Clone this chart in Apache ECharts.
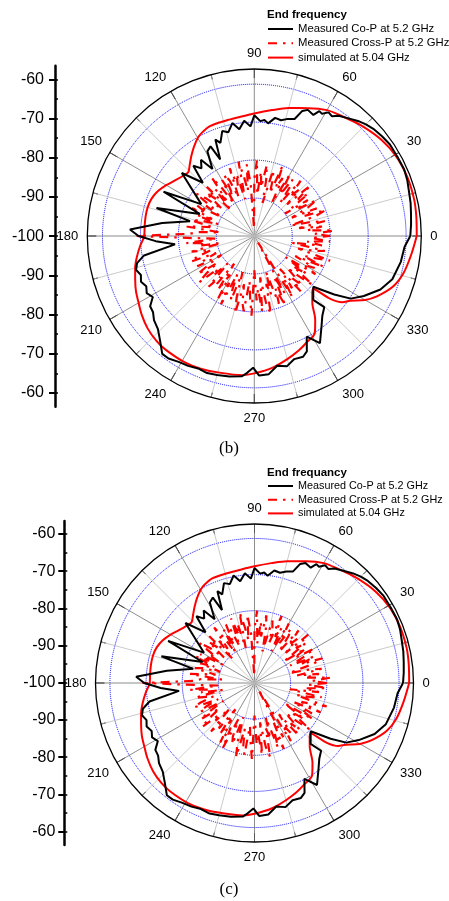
<!DOCTYPE html>
<html><head><meta charset="utf-8">
<script src="https://cdn.jsdelivr.net/npm/echarts@6/dist/echarts.min.js"></script>
<style>html,body{margin:0;padding:0;background:#fff}#c{width:449px;height:901px}</style>
</head><body><div id="c"></div>
<script>
// ---- data (dB vs angle in degrees) ----
const coPolAngle = [0,4,8,12,16,20,24,29,34,38,42,45,48,52,55,57,59,61,62.5,64,67,69,71,74,77,80,83,85,87,90,92,95,98,101,104,107,110,112,114,116,119,122,125,128,131,134,139,149,154,158,164,167,172,177,180,183,186,190,193,196,199,202,205,208,211,214,217,220,224,228,232,235,239,243,247,251,255,260,265,267,269.5,272,276,280,284,288,292,294.5,297.5,301.5,306.6,310.5,314.5,312.7,319.3,323.8,327,331.3,337,342.6,350,355.9,360];
const coPolDb = [-58.9,-58.6,-58.3,-57.9,-57.6,-57.1,-56.8,-56.9,-56.9,-57.3,-57.8,-58.4,-59.2,-60.5,-61.3,-62.4,-62.0,-63.2,-62.9,-64.5,-63.9,-64.7,-67.4,-67.9,-68.7,-68.4,-70.1,-69.3,-69.7,-68.2,-71.1,-69.5,-71.6,-69.7,-71.8,-71.1,-73.9,-72.6,-77.9,-73.7,-74.5,-79.2,-75.5,-77.4,-75.5,-80.5,-74.7,-83.7,-73.4,-84.5,-73.2,-82.6,-75.5,-67.2,-69.5,-74.0,-79.0,-70.5,-68.3,-67.6,-68.4,-67.8,-68.6,-67.9,-68.8,-66.9,-66.6,-65.5,-64.7,-62.9,-60.6,-60.6,-61.3,-61.6,-62.1,-61.8,-62.1,-62.4,-62.9,-63.9,-65.3,-63.2,-63.4,-65.3,-64.6,-65.9,-65.7,-66.6,-70.1,-66.9,-70.3,-72.4,-73.7,-77.1,-79.5,-73.9,-69.7,-67.1,-63.9,-61.9,-60.8,-60.3,-58.9];

const crossPolAngle = [0,2,4,6,8,10,12,14,16,18,20,22,24,26,28,30,32,34,36,38,40,42,44,46,48,50,52,54,56,58,60,62,64,66,68,70,72,74,76,78,80,82,84,86,88,90,92,94,96,98,100,102,104,106,108,110,112,114,116,118,120,122,124,126,128,130,132,134,136,138,140,142,144,146,148,150,152,154,156,158,160,162,164,166,168,170,172,174,176,178,180,182,184,186,188,190,192,194,196,198,200,202,204,206,208,210,212,214,216,218,220,222,224,226,228,230,232,234,236,238,240,242,244,246,248,250,252,254,256,258,260,262,264,266,268,270,272,274,276,278,280,282,284,286,288,290,292,294,296,298,300,302,304,306,308,310,312,314,316,318,320,322,324,326,328,330,332,334,336,338,340,342,344,346,348,350,352,354,356,358,360];
const crossPolDb = [
 -80,-84,-79,-86,-82,-88,-81,-85,-90,-83,
 -80,-86,-82,-89,-84,-81,-87,-83,-90,-82,
 -85,-80,-88,-83,-86,-81,-89,-84,-82,-87,
 -81,-90,-83,-86,-80,-88,-84,-82,-91,-85,
 -81,-87,-83,-89,-80,-85,-98,-86,-81,-88,
 -84,-80,-90,-83,-86,-81,-89,-84,-82,-88,
 -83,-90,-85,-81,-88,-84,-91,-82,-86,-83,
 -89,-84,-81,-87,-85,-90,-83,-86,-82,-88,
 -84,-90,-85,-83,-89,-86,-82,-91,-85,-83,
 -69,-84,-90,-82,-87,-85,-91,-83,-86,-88,
 -84,-82,-89,-85,-83,-90,-86,-82,-88,-84,
 -81,-87,-85,-90,-82,-86,-84,-91,-83,-88,
 -81,-86,-80,-89,-84,-82,-90,-83,-79,-87,
 -82,-80,-88,-84,-79,-91,-83,-86,-80,-89,
 -82,-79,-87,-84,-90,-81,-85,-80,-88,-83,
 -98,-81,-86,-83,-89,-81,-85,-82,-88,-84,
 -80,-87,-83,-90,-81,-85,-82,-88,-80,-86,
 -83,-79,-88,-84,-81,-90,-82,-86,-80,-85,
 -80];

const simAngle = [0,7,13,21,29,37,46,54,60,67,75,82,90,97,104,112,117,120,124,128,132,136,140,145,150,155,160,165,170,175,180,185,190,195,200,205,210,215,221,227,232,241,248,255,265,270,278,285,291,296,302,306,311,315,318,320.4,323,326,330,334,340,346,353,360];
const simDb = [-57.2,-57.0,-56.8,-56.8,-57.1,-58.0,-59.5,-60.9,-61.7,-63.4,-65.1,-66.5,-67.7,-68.4,-68.7,-68.8,-69.5,-70.2,-71.6,-73.1,-74.6,-75.8,-75.4,-74.5,-73.2,-72.0,-71.2,-70.9,-70.9,-71.0,-71.0,-69.8,-68.6,-67.5,-66.6,-65.6,-64.8,-63.8,-62.8,-62.2,-62.0,-62.0,-62.3,-62.8,-63.2,-63.8,-65.0,-66.4,-67.6,-68.7,-69.9,-72.7,-76.7,-78.4,-79.2,-74.0,-71.0,-69.5,-66.3,-63.9,-61.1,-59.5,-58.4,-57.2];

const angleLabels = ['0','30','60','90','120','150','180','210','240','270','300','330',''];
const leftTickLabels = ['-60','-70','-80','-90','-100','-90','-80','-70','-60'];
const seriesNames = ['Measured Co-P at 5.2 GHz','Measured Cross-P at 5.2 GHz','simulated at 5.04 GHz'];

const FONT = 'Liberation Sans';
function pairs(ang, db){ return ang.map((a,i)=>[db[i], a]); }

const panels = [
  {center:[254.3,236], radius:167, axisX:55, topA:65.7, hA:341, topB:79.4, hB:313.6, labelMargin:11,
   legendTop:23, legendGap:2.3, legendFont:11.3, titleTop:9, title:'End frequency', caption:'(b)', capY:449},
  {center:[254.5,683], radius:159, axisX:64.3, topA:521, hA:324, topB:533.9, hB:297.6, labelMargin:9,
   legendTop:480, legendGap:1.7, legendFont:10.8, titleTop:467, title:'End frequancy', caption:'(c)', capY:890}
];

const option = {animation:false, backgroundColor:'#fff',
  polar:[], angleAxis:[], radiusAxis:[], grid:[], xAxis:[], yAxis:[], series:[], legend:[], title:[], graphic:[]};

panels.forEach((p, k) => {
  option.polar.push({center:p.center, radius:p.radius});
  option.angleAxis.push({polarIndex:k, type:'value', min:0, max:360, interval:30, startAngle:0, clockwise:false,
    axisLine:{show:true, lineStyle:{color:'#000', width:1.3}},
    axisTick:{show:true, inside:true, length:9, lineStyle:{color:'#000', width:1}},
    minorTick:{show:true, splitNumber:2, length:5, lineStyle:{color:'#000', width:1}},
    axisLabel:{show:true, margin:9, fontSize:13, fontFamily:FONT, color:'#000',
      formatter:(v)=>angleLabels[Math.round(v/30)]},
    splitLine:{show:true, lineStyle:{color:'#707070', width:0.8}},
    minorSplitLine:{show:true, lineStyle:{color:'#bdbdbd', width:0.8}}, z:1});
  option.radiusAxis.push({polarIndex:k, type:'value', min:-100, max:-56, interval:10,
    axisLine:{show:false}, axisTick:{show:false}, axisLabel:{show:false},
    splitLine:{show:true, lineStyle:{color:['rgba(0,0,0,0)','#0000ff','#0000ff','#0000ff','#0000ff','rgba(0,0,0,0)'], type:'dotted', width:1}}});

  const gA = option.grid.length;
  option.grid.push({left:p.axisX, top:p.topA, height:p.hA, width:20, containLabel:false, outerBoundsMode:'none'});
  option.grid.push({left:p.axisX, top:p.topB, height:p.hB, width:20, containLabel:false, outerBoundsMode:'none'});
  option.xAxis.push({gridIndex:gA, type:'value', show:false});
  option.xAxis.push({gridIndex:gA+1, type:'value', show:false});
  option.yAxis.push({gridIndex:gA, type:'value', min:-43.5, max:43.5, position:'left',
    axisLine:{show:true, lineStyle:{color:'#000', width:2.5}}, axisTick:{show:false}, axisLabel:{show:false}, splitLine:{show:false}});
  option.yAxis.push({gridIndex:gA+1, type:'value', min:-40, max:40, interval:10, position:'left',
    axisLine:{show:false}, axisTick:{show:true, inside:false, length:6, lineStyle:{color:'#000', width:2}},
    axisLabel:{show:true, margin:p.labelMargin, fontSize:16, fontFamily:FONT, color:'#000',
      formatter:(v)=>leftTickLabels[Math.round((v+40)/10)]}, splitLine:{show:false}});
  option.yAxis.push({gridIndex:gA+1, type:'value', min:-40, max:40, interval:5, position:'left',
    axisLine:{show:false}, axisTick:{show:true, inside:true, length:3, lineStyle:{color:'#000', width:1.5}},
    axisLabel:{show:false}, splitLine:{show:false}});

  option.series.push({name:seriesNames[1], type:'line', coordinateSystem:'polar', polarIndex:k, symbol:'none', z:2,
    lineStyle:{color:'#ff0000', width:2.2, type:[9,6,2.5,6]}, itemStyle:{color:'#ff0000'}, data:pairs(crossPolAngle, crossPolDb)});
  option.series.push({name:seriesNames[2], type:'line', coordinateSystem:'polar', polarIndex:k, symbol:'none', z:3, smooth:0.3,
    lineStyle:{color:'#ff0000', width:2}, itemStyle:{color:'#ff0000'}, data:pairs(simAngle, simDb)});
  option.series.push({name:seriesNames[0], type:'line', coordinateSystem:'polar', polarIndex:k, symbol:'none', z:4,
    lineStyle:{color:'#000', width:2}, itemStyle:{color:'#000'}, data:pairs(coPolAngle, coPolDb)});

  option.legend.push({orient:'vertical', left:267, top:p.legendTop, padding:0, itemWidth:25, itemHeight:12, itemGap:p.legendGap,
    data:seriesNames, itemStyle:{opacity:0}, textStyle:{fontSize:p.legendFont, fontFamily:FONT, color:'#000', lineHeight:12}, selectedMode:false});
  option.title.push({text:p.title, left:267, top:p.titleTop, padding:0,
    textStyle:{fontSize:11.5, fontWeight:'bold', fontFamily:FONT, color:'#000'}});
  option.graphic.push({type:'text', x:229, y:p.capY, style:{text:p.caption, font:'17px "Liberation Serif"', fill:'#000',
    textAlign:'center', textVerticalAlign:'middle'}});
});

const chart = echarts.init(document.getElementById('c'), null, {renderer:'canvas'});
chart.setOption(option);
</script></body></html>
